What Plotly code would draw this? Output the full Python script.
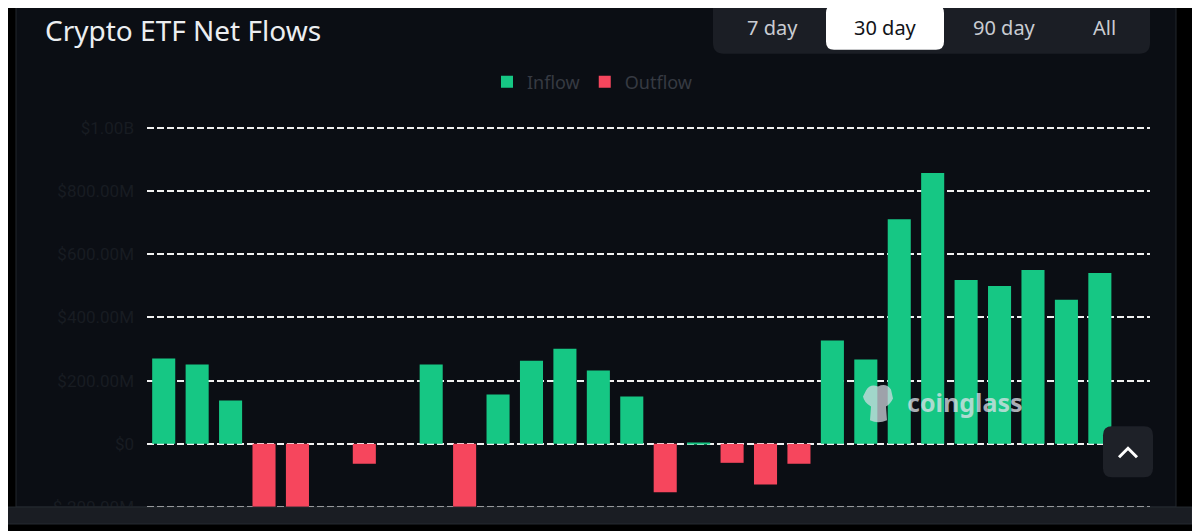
import plotly.graph_objects as go

# ---------------- data ----------------
days = [f"Day {i}" for i in range(1, 31)]
net_flows_musd = [270, 251, 137, -240, -240, 0, -63, 0, 251, -240,
                  156, 263, 301, 232, 150, -153, 3, -60, -129, -63,
                  327, 267, 711, 857, 519, 500, 550, 456, 541, None]
tick_values_musd = [-200, 0, 200, 400, 600, 800, 1000]
tick_labels = ["$-200.00M", "$0", "$200.00M", "$400.00M", "$600.00M", "$800.00M", "$1.00B"]
tab_labels = ["7 day", "30 day", "90 day", "All"]
selected_tab = "30 day"

inflow = [v * 1e6 if (v is not None and v > 0) else None for v in net_flows_musd]
outflow = [v * 1e6 if (v is not None and v < 0) else None for v in net_flows_musd]

# ---------------- geometry helpers ----------------
OFF = 8                      # page body margin offset
W, H = 1200 - OFF, 531 - OFF
PL, PR, PT, PB = 147 - OFF, 1150 - OFF, 110 - OFF, 520 - OFF


def X(px):  # px given in window (screenshot) coordinates
    return (px - OFF - PL) / (PR - PL)


def Y(py):
    return (PB - (py - OFF)) / (PB - PT)


def rrect(x0, y0, x1, y1, r):
    return (f"M {X(x0 + r)},{Y(y0)} L {X(x1 - r)},{Y(y0)} "
            f"Q {X(x1)},{Y(y0)} {X(x1)},{Y(y0 + r)} L {X(x1)},{Y(y1 - r)} "
            f"Q {X(x1)},{Y(y1)} {X(x1 - r)},{Y(y1)} L {X(x0 + r)},{Y(y1)} "
            f"Q {X(x0)},{Y(y1)} {X(x0)},{Y(y1 - r)} L {X(x0)},{Y(y0 + r)} "
            f"Q {X(x0)},{Y(y0)} {X(x0 + r)},{Y(y0)} Z")


GREEN = "#16c784"
RED = "#f6465d"
PANEL = "#0b0e14"
FONT = "Noto Sans"

fig = go.Figure()
fig.add_trace(go.Bar(x=days, y=inflow, name="Inflow", marker=dict(color=GREEN, line=dict(width=0))))
fig.add_trace(go.Bar(x=days, y=outflow, name="Outflow", marker=dict(color=RED, line=dict(width=0))))

shapes = []
# panel background
shapes.append(dict(type="rect", xref="paper", yref="paper", layer="below",
                   x0=X(16), x1=X(1176), y0=Y(3), y1=Y(507),
                   fillcolor=PANEL, line=dict(color="#22262d", width=1)))
# tabs container
shapes.append(dict(type="path", xref="paper", yref="paper", layer="above",
                   path=rrect(713, -12, 1150, 52, 11),
                   fillcolor="#1b1e25", line=dict(width=0)))
shapes.append(dict(type="path", xref="paper", yref="paper", layer="above",
                   path=rrect(826, 3, 944, 48, 8),
                   fillcolor="#ffffff", line=dict(width=0)))
# bottom band
shapes.append(dict(type="rect", xref="paper", yref="paper", layer="above",
                   x0=X(0), x1=X(1192), y0=Y(507), y1=Y(524),
                   fillcolor="#1a1d23", line=dict(color="#262a31", width=1)))
# scroll-to-top button
shapes.append(dict(type="path", xref="paper", yref="paper", layer="above",
                   path=rrect(1103, 426, 1153, 477, 9),
                   fillcolor="#1e2128", line=dict(width=0)))
shapes.append(dict(type="path", xref="paper", yref="paper", layer="above",
                   path=f"M {X(1119)},{Y(457)} L {X(1128)},{Y(448)} L {X(1137)},{Y(457)}",
                   fillcolor="rgba(0,0,0,0)", line=dict(color="#ffffff", width=3)))
# watermark logo (simple blob)
logo = (f"M {X(866)},{Y(390)} Q {X(870)},{Y(383)} {X(878)},{Y(386)} "
        f"Q {X(886)},{Y(382)} {X(891)},{Y(389)} L {X(893)},{Y(398)} "
        f"Q {X(890)},{Y(404)} {X(886)},{Y(406)} L {X(887)},{Y(420)} "
        f"Q {X(878)},{Y(424)} {X(870)},{Y(420)} L {X(871)},{Y(406)} "
        f"Q {X(864)},{Y(402)} {X(863)},{Y(396)} Z")
shapes.append(dict(type="path", xref="paper", yref="paper", layer="above",
                   path=logo, fillcolor="rgba(215,220,228,0.72)", line=dict(width=0)))

annotations = [
    dict(text="Crypto ETF Net Flows", xref="paper", yref="paper", x=X(43), y=Y(28),
         xanchor="left", yanchor="middle", showarrow=False,
         font=dict(family=FONT, size=28, color="#eceef1")),
    dict(text="coinglass", xref="paper", yref="paper", x=X(965), y=Y(402),
         xanchor="center", yanchor="middle", showarrow=False,
         font=dict(family=FONT, size=25, color="rgba(222,226,234,0.75)", weight="bold")),
]
tab_centers = [772, 885, 1004, 1104]
for lbl, cx in zip(tab_labels, tab_centers):
    annotations.append(dict(text=lbl, xref="paper", yref="paper", x=X(cx), y=Y(26),
                            xanchor="center", yanchor="middle", showarrow=False,
                            font=dict(family=FONT, size=20,
                                      color="#111318" if lbl == selected_tab else "#c9ccd2")))

fig.update_layout(
    width=W, height=H,
    margin=dict(l=PL, r=W - PR, t=PT, b=H - PB),
    paper_bgcolor="#000000",
    plot_bgcolor="rgba(0,0,0,0)",
    barmode="overlay",
    bargap=0.31,
    showlegend=True,
    legend=dict(orientation="h", xref="container", yref="container",
                x=(592 - OFF) / W, y=1 - (82 - OFF) / H, xanchor="center", yanchor="middle",
                font=dict(family=FONT, size=18, color="#363a42"),
                bgcolor="rgba(0,0,0,0)", itemclick=False),
    xaxis=dict(type="category", range=[-0.5, 29.5], showgrid=False, showticklabels=False,
               showline=False, zeroline=False, fixedrange=True),
    yaxis=dict(range=[-241e6, 1.052e9], tickvals=[v * 1e6 for v in tick_values_musd],
               ticktext=tick_labels, showgrid=True, gridcolor="#f0f0f0", gridwidth=1.5,
               griddash="7px,3px", zeroline=False, showline=False, ticks="",
               ticklabelstandoff=12,
               tickfont=dict(family="Roboto", size=17, color="#181c22"), fixedrange=True),
    shapes=shapes,
    annotations=annotations,
    font=dict(family=FONT),
)

fig.write_html("out.html")
